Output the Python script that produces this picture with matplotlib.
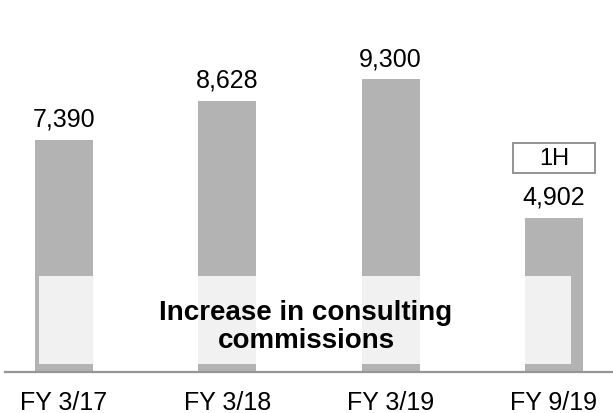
import numpy as np
import matplotlib
matplotlib.use("Agg")
import matplotlib.pyplot as plt
from matplotlib.patches import Rectangle

plt.rcParams["font.family"] = ["Liberation Sans", "DejaVu Sans"]

# consulting commission figures
periods = ["FY 3/17", "FY 3/18", "FY 3/19", "FY 9/19"]
values = [7390, 8628, 9300, 4902]
half_year_tag = "1H"
overlay_text = "Increase in consulting\ncommissions"

bar_color = "#b3b3b3"
axis_color = "#959595"

fig = plt.figure(figsize=(6.13, 4.14), dpi=100)
ax = fig.add_axes([5 / 613, 41 / 414, 608 / 613, 373 / 414])

x = np.arange(len(values))
bars = ax.bar(x, values, width=0.355, color=bar_color, zorder=2)

ymax = 11859
ax.set_ylim(0, ymax)
ax.set_xlim(-0.3613, 3.3619)
px = ymax / 373.0  # data units per pixel

# value labels above each bar
for xi, v in zip(x, values):
    ax.annotate(f"{v:,}", (xi, v), xytext=(0, 9), textcoords="offset pixels",
                ha="center", va="bottom", fontsize=18, color="black")

# "1H" tag box over the half-year bar
bx, bv = x[-1], values[-1]
box_w, box_h = 0.502, 30 * px
box_y = bv + 45 * px
ax.add_patch(Rectangle((bx - box_w / 2, box_y), box_w, box_h, facecolor="white",
                       edgecolor="#8a8a8a", linewidth=1.3, zorder=4))
ax.text(bx, box_y + box_h / 2, half_year_tag, ha="center", va="center",
        fontsize=17, zorder=5)

# translucent band across the lower part of the bars
ax.add_patch(Rectangle((0.0559, 0.0214), 0.875, 0.236, transform=ax.transAxes,
                       facecolor="white", alpha=0.83, edgecolor="none", zorder=3))
ax.text(0.495, 0.123, overlay_text, transform=ax.transAxes, ha="center",
        va="center", fontsize=20, fontweight="bold", linespacing=1.1, zorder=5)

ax.set_xticks(x)
ax.set_xticklabels(periods, fontsize=18)
ax.tick_params(axis="x", length=0, pad=13)
ax.set_yticks([])
for side in ["left", "right", "top"]:
    ax.spines[side].set_visible(False)
ax.spines["bottom"].set_color(axis_color)
ax.spines["bottom"].set_linewidth(1.6)
ax.spines["bottom"].set_zorder(6)

fig.savefig("out.png", dpi=100)
